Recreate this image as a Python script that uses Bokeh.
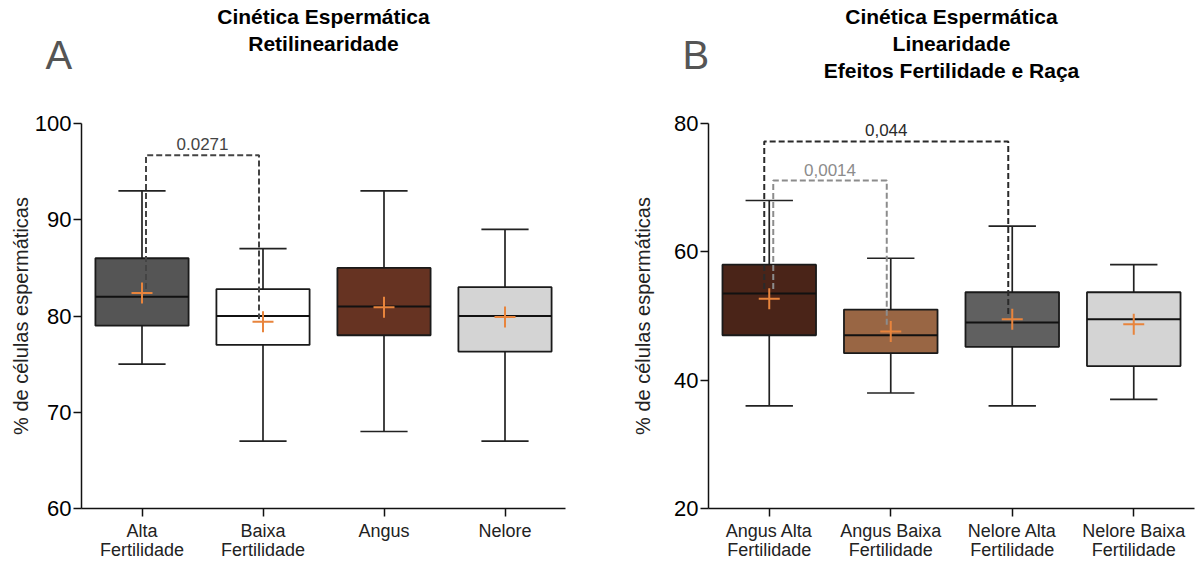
from bokeh.plotting import figure
from bokeh.layouts import row
from bokeh.models import Label, FixedTicker, Range1d, LinearAxis, Title
from bokeh.embed import file_html
from bokeh.resources import INLINE

FONT = "Liberation Sans"

# ---------------- Panel A data ----------------
a_labels = ["Alta\nFertilidade", "Baixa\nFertilidade", "Angus", "Nelore"]
a_low = [75, 67, 68, 67]
a_q1 = [79, 77, 78, 76.3]
a_med = [82, 80, 81, 80]
a_q3 = [86, 82.8, 85, 83]
a_high = [93, 87, 93, 89]
a_mean = [82.4, 79.4, 80.9, 79.9]
a_colors = ["#555555", "#ffffff", "#663322", "#d4d4d4"]
a_yticks = [60, 70, 80, 90, 100]
a_title = "Cinética Espermática\nRetilinearidade"
# brackets: (group i, group j, height, left leg end, right leg end, text)
a_brackets = [(0, 1, 96.7, 82.8, 79.7, "0.0271")]

# ---------------- Panel B data ----------------
b_labels = ["Angus Alta\nFertilidade", "Angus Baixa\nFertilidade",
            "Nelore Alta\nFertilidade", "Nelore Baixa\nFertilidade"]
b_low = [36, 38, 36, 37]
b_q1 = [47, 44.2, 45.2, 42.2]
b_med = [53.5, 47, 49, 49.5]
b_q3 = [58, 51, 53.7, 53.7]
b_high = [68, 59, 64, 58]
b_mean = [52.7, 47.6, 49.5, 48.7]
b_colors = ["#4a2418", "#996644", "#606060", "#d4d4d4"]
b_yticks = [20, 40, 60, 80]
b_title = "Cinética Espermática\nLinearidade\nEfeitos Fertilidade e Raça"
b_brackets = [(0, 2, 77.2, 54.2, 50.2, "0,044"),
              (0, 1, 71.1, 54.2, 48.6, "0,0014")]

# ---------------- styles ----------------
H = 562
TOP = 123
BOTTOM = 52
BOX_W = 0.77
CAP_W = 0.39
ORANGE = "#e8843c"
NBSP = "\u00a0"


def blank_axis(**kw):
    return LinearAxis(ticker=FixedTicker(ticks=[]), axis_line_color=None,
                      major_tick_line_color=None, minor_tick_line_color=None,
                      major_tick_in=0, major_tick_out=0, **kw)


def panel(width, border_left, frame_w, labels, low, q1, med, q3, high, mean,
          colors, yticks, brackets, br_styles, title, letter, letter_offset,
          gap_standoff, title_standoff, ylab_standoff):
    ymin, ymax = yticks[0], yticks[-1]
    n = len(labels)
    xs = [i + 0.5 for i in range(n)]
    ppx = frame_w / n

    p = figure(width=width, height=H, output_backend="svg", toolbar_location=None,
               x_range=Range1d(0, n), y_range=Range1d(ymin, ymax),
               min_border_left=border_left, min_border_right=width - border_left - frame_w,
               min_border_top=TOP, min_border_bottom=BOTTOM)
    p.outline_line_color = None
    p.grid.visible = False
    p.background_fill_color = "white"
    p.border_fill_color = "white"

    # whiskers
    p.segment(xs, q3, xs, high, line_color="#222222", line_width=1.7)
    p.segment(xs, low, xs, q1, line_color="#222222", line_width=1.7)
    # caps
    p.segment([x - CAP_W / 2 for x in xs], high, [x + CAP_W / 2 for x in xs], high,
              line_color="#222222", line_width=1.7)
    p.segment([x - CAP_W / 2 for x in xs], low, [x + CAP_W / 2 for x in xs], low,
              line_color="#222222", line_width=1.7)
    # boxes
    p.vbar(x=xs, width=BOX_W, bottom=q1, top=q3, fill_color=colors,
           line_color="#1a1a1a", line_width=1.8)
    # medians
    p.segment([x - BOX_W / 2 for x in xs], med, [x + BOX_W / 2 for x in xs], med,
              line_color="#111111", line_width=2)

    # brackets
    for (i, j, h, l1, l2, txt), (col, off1, off2) in zip(brackets, br_styles):
        x1 = xs[i] + off1 / ppx
        x2 = xs[j] + off2 / ppx
        p.line([x1, x1, x2, x2], [l1, h, h, l2], line_color=col, line_width=2,
               line_dash="6 3")
        p.add_layout(Label(x=(x1 + x2) / 2, y=h, y_offset=11, text=txt,
                           text_align="center", text_baseline="alphabetic",
                           text_font=FONT, text_font_size="17px", text_color=col))

    # means
    p.scatter(xs, mean, marker="cross", size=21, line_color=ORANGE, line_width=2)

    # main axes
    xa = p.below[0]
    xa.ticker = FixedTicker(ticks=xs)
    xa.major_label_overrides = {x: lab for x, lab in zip(xs, labels)}
    xa.major_label_text_font = FONT
    xa.major_label_text_font_size = "18px"
    xa.major_label_text_color = "#222222"
    xa.major_label_text_line_height = 0.97
    xa.major_label_standoff = 4
    xa.major_tick_out = 8
    xa.major_tick_in = 0
    xa.minor_tick_line_color = None
    xa.axis_line_width = 1.5
    xa.major_tick_line_width = 1.5
    xa.axis_line_color = "#111111"
    xa.major_tick_line_color = "#111111"

    ya = p.left[0]
    ya.ticker = FixedTicker(ticks=yticks)
    ya.major_label_text_font = FONT
    ya.major_label_text_font_size = "22px"
    ya.major_label_text_color = "#000000"
    ya.major_label_standoff = 2
    ya.major_tick_out = 8
    ya.major_tick_in = 0
    ya.minor_tick_line_color = None
    ya.axis_line_width = 1.5
    ya.major_tick_line_width = 1.5
    ya.axis_line_color = "#111111"
    ya.major_tick_line_color = "#111111"
    ya.axis_label = "% de células espermáticas"
    ya.axis_label_text_font = FONT
    ya.axis_label_text_font_size = "20px"
    ya.axis_label_text_font_style = "normal"
    ya.axis_label_text_color = "#222222"
    ya.axis_label_standoff = ylab_standoff

    # spacer between the frame and the panel letter
    p.add_layout(blank_axis(axis_label=NBSP, axis_label_standoff=gap_standoff,
                            axis_label_text_font=FONT,
                            axis_label_text_font_size="10px"), "above")
    # panel letter, left-aligned and shifted left of the frame
    p.add_layout(Title(text=letter, align="left", offset=letter_offset, standoff=0,
                       vertical_align="bottom", text_font=FONT,
                       text_font_size="40px", text_font_style="normal",
                       text_color="#555555"), "above")
    # title: label of an invisible axis above, pulled down beside the letter
    p.add_layout(blank_axis(axis_label=title,
                            axis_label_standoff=title_standoff,
                            axis_label_text_font=FONT,
                            axis_label_text_font_size="21px",
                            axis_label_text_font_style="bold",
                            axis_label_text_color="#000000",
                            axis_label_text_line_height=1.16), "above")
    return p


pa = panel(598, 81, 484, a_labels, a_low, a_q1, a_med, a_q3, a_high, a_mean,
           a_colors, a_yticks, a_brackets, [("#444444", 4, -4)],
           a_title, "A", -36, 33, -24, 0)

pb = panel(599, 110, 486, b_labels, b_low, b_q1, b_med, b_q3, b_high, b_mean,
           b_colors, b_yticks, b_brackets,
           [("#2a2a2a", -5, -4), ("#8c8c8c", 4, -4)],
           b_title, "B", -26, 33, -51, 17)

layout = row(pa, pb)
open("out.html", "w").write(file_html(layout, INLINE))
